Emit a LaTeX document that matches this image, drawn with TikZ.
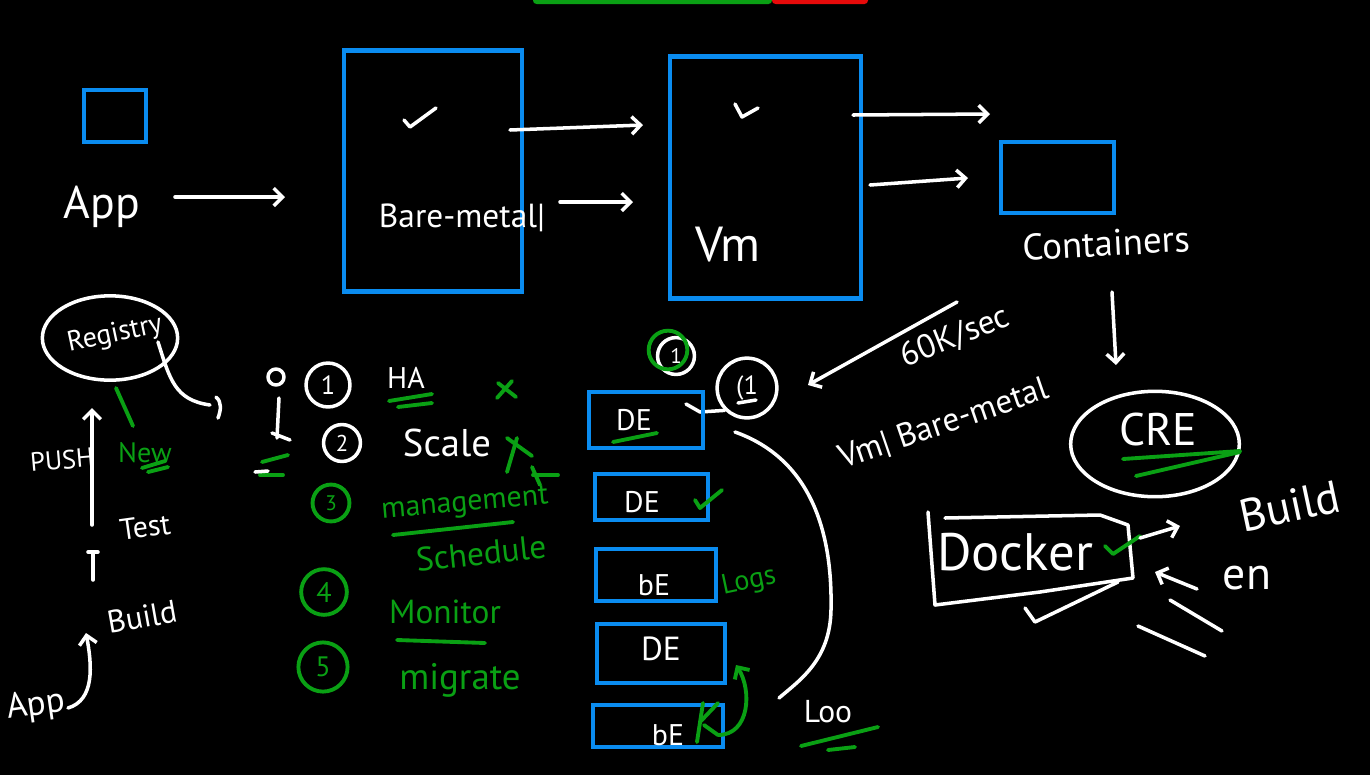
\documentclass[tikz,border=0pt]{standalone}
\usepackage{fontspec}
\setmainfont{PT Sans}
\usetikzlibrary{arrows.meta,shapes.geometric}
\definecolor{blu}{RGB}{10,140,240}
\definecolor{grn}{RGB}{10,160,20}
\definecolor{barred}{RGB}{230,10,10}
\newcommand{\hfs}[1]{\fontsize{#1}{#1}\selectfont}
\tikzset{
  wline/.style={white, line width=2pt, line cap=round, line join=round},
  gline/.style={grn, line width=2.2pt, line cap=round, line join=round},
  bbox/.style={draw=blu, line width=2.4pt, rectangle, inner sep=0pt},
  warr/.style={wline, -{Straight Barb[length=5pt,width=10pt]}},
  garr/.style={gline, -{Straight Barb[length=5pt,width=10pt]}},
  wtxt/.style={text=white, inner sep=0pt},
  gtxt/.style={text=grn, inner sep=0pt},
  wcirc/.style={circle, draw=white, line width=2pt, inner sep=0pt, text=white},
  gcirc/.style={circle, draw=grn, line width=2.2pt, inner sep=0pt, text=grn},
}
\begin{document}
\begin{tikzpicture}[x=0.02cm,y=-0.02cm]
\fill[black] (0,0) rectangle (1370,775);
\useasboundingbox (0,0) rectangle (1370,775);
% top bar
\fill[grn, rounded corners=2pt] (533,-4) rectangle (772,4);
\fill[barred, rounded corners=2pt] (772,-4) rectangle (868,4);

% ---- top row ----
\node[bbox, minimum width=35.1pt, minimum height=29.5pt] (small) at (115,116) {};
\node[wtxt, font=\hfs{26}] (app) at (102,207) {App};
\node[bbox, minimum width=100.9pt, minimum height=137.2pt] (bm) at (433,171) {};
\node[wtxt, font=\hfs{19}] (bmt) at (462,218) {Bare-metal|};
\draw[wline] (404,120) -- (410,127) -- (436,108);
\node[bbox, minimum width=108.3pt, minimum height=137.8pt] (vm) at (765.5,177.5) {};
\node[wtxt, font=\hfs{28}] (vmt) at (728,245) {Vm};
\draw[wline] (735,104) -- (742,117) -- (758,108);
\node[bbox, minimum width=64.1pt, minimum height=40.3pt] (cont) at (1057.5,177.5) {};
\node[wtxt, font=\hfs{21}, rotate=3] (contt) at (1106,243) {Containers};

\coordinate (a1s) at (175,197); \coordinate (a1e) at (285,197);
\draw[warr] (a1s) -- (a1e);
\coordinate (a2s) at (510,130); \coordinate (a2e) at (643,125);
\draw[warr] (a2s) -- (a2e);
\coordinate (a3s) at (560,202); \coordinate (a3e) at (633,202);
\draw[warr] (a3s) -- (a3e);
\coordinate (a4s) at (853,115); \coordinate (a4e) at (990,114);
\draw[warr] (a4s) -- (a4e);
\coordinate (a5s) at (870,185); \coordinate (a5e) at (968,178);
\draw[warr] (a5s) -- (a5e);
\coordinate (a6s) at (1112,292); \coordinate (a6e) at (1116,365);
\draw[warr] (a6s) -- (a6e);
\coordinate (a7s) at (957,302); \coordinate (a7e) at (808,385);
\draw[warr] (a7s) -- (a7e);

% ---- right side ----
\node[wtxt, font=\hfs{19}, rotate=22] (k60) at (955,337) {60K/sec};
\node[wtxt, font=\hfs{19}, rotate=19] (vmbm) at (944,424) {Vm| Bare-metal};
\node[ellipse, draw=white, line width=2pt, minimum width=96pt, minimum height=60pt] (cre) at (1155,444) {};
\node[wtxt, font=\hfs{26}] (cret) at (1158,430) {CRE};
\draw[gline] (1123,459) -- (1240,451);
\draw[gline] (1136,476) -- (1240,452);
\node[wtxt, font=\hfs{26}, rotate=12] (buildr) at (1290,506) {Build};
\node[wtxt, font=\hfs{30}] (docker) at (1015,552) {Docker};
\draw[wline] (928,512) -- (935,605) -- (1040,592) -- (1133,578) -- (1128,525) -- (1100,515) -- (945,518);
\draw[gline] (1105,546) -- (1113,554) -- (1140,536);
\coordinate (dks) at (1140,538); \coordinate (dke) at (1180,526);
\draw[warr] (dks) -- (dke);
\draw[wline] (1025,608) -- (1035,622) -- (1118,582);
\node[wtxt, font=\hfs{26}] (en) at (1247,578) {en};
\coordinate (ens) at (1197,589); \coordinate (ene) at (1155,572);
\draw[warr] (ens) -- (ene);
\draw[wline] (1170,600) -- (1222,631);
\draw[wline] (1138,626) -- (1205,656);

% ---- left side ----
\node[ellipse, draw=white, line width=2pt, minimum width=77pt, minimum height=48pt] (reg) at (110,338) {};
\node[wtxt, font=\hfs{16}, rotate=12] (regt) at (115,335) {Registry};
\draw[wline] (158,342) .. controls (170,380) and (175,400) .. (210,405);
\draw[wline] (216,397) .. controls (222,402) and (221,410) .. (218,418);
\draw[gline] (116,388) -- (133,426);
\node[gtxt, font=\hfs{16}] (new) at (145,453) {New};
\draw[gline] (142,468) -- (165,461);
\draw[gline] (148,472) -- (168,467);
\node[wtxt, font=\hfs{15}, rotate=5] (push) at (62,460) {PUSH};
\coordinate (ps) at (92,525); \coordinate (pe) at (92,408);
\draw[warr] (ps) -- (pe);
\node[wtxt, font=\hfs{17}, rotate=8] (test) at (145,527) {Test};
\draw[wline] (88,552) -- (98,552);
\draw[wline] (93,552) -- (93,580);
\node[wtxt, font=\hfs{18}, rotate=10] (buildl) at (142,617) {Build};
\node[wtxt, font=\hfs{20}, rotate=8] (appl) at (36,706) {App};
\coordinate (bs) at (68,708); \coordinate (be) at (86,633);
\draw[wline, -{Straight Barb[length=5pt,width=10pt]}] (bs) .. controls (95,700) and (92,665) .. (be);

% ---- list ----
\draw[wline] (276,377) circle [radius=8];
\draw[wline] (279,398) -- (277,438);
\draw[wline] (272,433) -- (290,440);
\draw[gline] (262,462) -- (288,455);
\draw[gline] (260,475) -- (283,475);
\draw[wline] (255,472) -- (268,471);
\node[wcirc, minimum size=25pt, font=\hfs{15}] (c1) at (328,385) {1};
\node[wtxt, font=\hfs{17}] (ha) at (406,378) {HA};
\draw[gline] (389,401) -- (432,394);
\draw[gline] (398,407) -- (432,403);
\draw[gline] (497,398) -- (512,381);
\draw[gline] (498,383) -- (516,397);
\node[wcirc, minimum size=21pt, font=\hfs{13}] (c2) at (342,443) {2};
\node[wtxt, font=\hfs{22}] (scale) at (447,443) {Scale};
\draw[gline] (507,438) -- (532,456);
\draw[gline] (517,438) -- (507,472);
\draw[gline] (532,467) -- (540,485);
\draw[gline] (533,475) -- (558,475);
\node[gcirc, minimum size=21pt, font=\hfs{12}] (c3) at (331,503) {3};
\node[gtxt, font=\hfs{17}, rotate=5] (mgmt) at (465,505) {management};
\draw[gline] (393,535) -- (513,522);
\node[gtxt, font=\hfs{19}, rotate=6] (sched) at (481,553) {Schedule};
\node[gcirc, minimum size=26pt, font=\hfs{16}] (c4) at (324,592) {4};
\node[gtxt, font=\hfs{19}] (mon) at (445,612) {Monitor};
\draw[gline] (397,640) -- (485,643);
\node[gcirc, minimum size=28pt, font=\hfs{16}] (c5) at (323,667) {5};
\node[gtxt, font=\hfs{21}] (mig) at (460,680) {migrate};

% ---- DE stack ----
\node[wcirc, minimum size=21pt, font=\hfs{12}] (w1) at (676,356) {1};
\node[gcirc, minimum size=22pt] (g1) at (668,350) {};
\node[wcirc, minimum size=34pt, font=\hfs{15}] (face) at (747,388) {(1};
\draw[wline] (738,403) -- (756,400);
\draw[wline] (face.south west) -- (700,412) -- (686,404);

\node[bbox, minimum width=64.6pt, minimum height=31.7pt] (de1) at (646,420) {};
\node[wtxt, font=\hfs{17}] (de1t) at (634,420) {DE};
\draw[gline] (613,442) -- (657,433);
\node[bbox, minimum width=64.1pt, minimum height=26.1pt] (de2) at (651.5,497) {};
\node[wtxt, font=\hfs{17}] (de2t) at (642,502) {DE};
\draw[gline] (695,500) -- (700,508) -- (722,490);
\node[bbox, minimum width=68pt, minimum height=29.5pt] (de3) at (656,575) {};
\node[wtxt, font=\hfs{17}] (de3t) at (654,585) {bE};
\node[gtxt, font=\hfs{16}, rotate=12] (logs) at (749,582) {Logs};
\node[bbox, minimum width=72.6pt, minimum height=33.4pt] (de4) at (661,653.5) {};
\node[wtxt, font=\hfs{19}] (de4t) at (661,649) {DE};
\node[bbox, minimum width=73.7pt, minimum height=23.8pt] (de5) at (658,726) {};
\node[wtxt, font=\hfs{17}] (de5t) at (668,735) {bE};
\draw[gline] (697,742) -- (703,703);
\draw[gline] (700,722) -- (718,703);
\draw[gline] (704,725) -- (718,735);
\coordinate (gas) at (718,735); \coordinate (gae) at (736,665);
\draw[garr] (gas) .. controls (750,735) and (752,690) .. (gae);

\coordinate (cs) at (735,432); \coordinate (ce) at (779,698);
\draw[wline] (cs) .. controls (800,455) and (833,515) .. (831,610) .. controls (830,660) and (800,680) .. (ce);
\node[wtxt, font=\hfs{18}] (loo) at (828,712) {Loo};
\draw[gline] (801,746) -- (878,727);
\draw[gline] (828,750) -- (855,747);
\end{tikzpicture}
\end{document}
